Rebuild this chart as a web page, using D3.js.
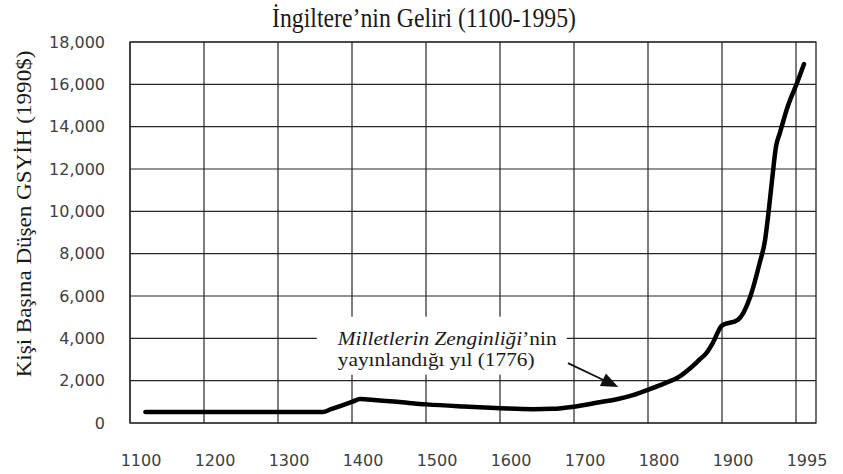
<!DOCTYPE html>
<html>
<head>
<meta charset="utf-8">
<script src="https://cdn.jsdelivr.net/npm/d3@7"></script>
<style>
  html, body { margin: 0; padding: 0; background: #ffffff; }
  svg { display: block; }
</style>
</head>
<body>
<div id="chart"></div>
<script>
// ---------- data ----------
const years  = [1110, 1200, 1300, 1350, 1360, 1390, 1400, 1410, 1450, 1490, 1540, 1590, 1634, 1660, 1689, 1724, 1747, 1770, 1789, 1810, 1832, 1845, 1859, 1868, 1877, 1889, 1910, 1926, 1938, 1945, 1949, 1954, 1959, 1964, 1974, 1986, 1995];
const values = [ 520,  520,  520,  520,  640, 1010, 1130, 1110, 1000,  880,  780,  700,  655,  670,  770,  980, 1120, 1330, 1570, 1850, 2200, 2550, 3000, 3300, 3800, 4600, 4870, 5970, 7550, 8640, 9800, 11480, 13050, 13700, 14940, 16060, 16960];
const xTickYears  = [1100, 1200, 1300, 1400, 1500, 1600, 1700, 1800, 1900, 1995];
const xTickLabels = ["1100", "1200", "1300", "1400", "1500", "1600", "1700", "1800", "1900", "1995"];
const yTickValues = [0, 2000, 4000, 6000, 8000, 10000, 12000, 14000, 16000, 18000];
const titleText = "İngiltere’nin Geliri (1100-1995)";
const yTitleText = "Kişi Başına Düşen GSYİH (1990$)";
const noteItalic = "Milletlerin Zenginliği";
const noteRest = "’nin";
const noteLine2 = "yayınlandığı yıl (1776)";
// annotation anchors in data units
const noteAt = { year: 1370, value: 3700 };
const arrowFrom = { year: 1681, value: 2830 };
const arrowTo = { year: 1749, value: 1700 };

// ---------- layout ----------
const W = 843, H = 474;
const plot = { left: 130, right: 816, top: 42, bottom: 423 };
const gridShift = 8;   // gridlines sit a little left of the label/data positions

const svg = d3.select("#chart").append("svg")
  .attr("width", W).attr("height", H)
  .style("background", "#fff");

const x = d3.scaleLinear().domain([1100, 1900, 1995]).range([138, 730, 804]);
const y = d3.scaleLinear().domain([0, 18000]).range([plot.bottom, plot.top]);

const gridColor = "#262626";

// gridlines (horizontal)
svg.append("g").selectAll("line").data(yTickValues).join("line")
  .attr("x1", plot.left).attr("x2", plot.right)
  .attr("y1", d => y(d)).attr("y2", d => y(d))
  .attr("stroke", gridColor).attr("stroke-width", 1.2);

// gridlines (vertical)
svg.append("g").selectAll("line").data(xTickYears).join("line")
  .attr("x1", d => x(d) - gridShift).attr("x2", d => x(d) - gridShift)
  .attr("y1", plot.top).attr("y2", plot.bottom)
  .attr("stroke", gridColor).attr("stroke-width", 1.2);

// frame
svg.append("rect")
  .attr("x", plot.left).attr("y", plot.top)
  .attr("width", plot.right - plot.left).attr("height", plot.bottom - plot.top)
  .attr("fill", "none").attr("stroke", gridColor).attr("stroke-width", 1.3);

// y tick labels
const tickFont = "'DejaVu Sans', sans-serif";
svg.append("g").selectAll("text").data(yTickValues).join("text")
  .attr("x", 105).attr("y", d => y(d)).attr("dy", "0.36em")
  .attr("text-anchor", "end")
  .attr("font-family", tickFont).attr("font-size", 16)
  .attr("fill", "#404040")
  .text(d => d3.format(",")(d));

// x tick labels
svg.append("g").selectAll("text").data(xTickYears).join("text")
  .attr("x", d => x(d) + 3).attr("y", 466)
  .attr("text-anchor", "middle")
  .attr("font-family", tickFont).attr("font-size", 16)
  .attr("fill", "#404040")
  .text((d, i) => xTickLabels[i]);

// helper to squeeze text horizontally to a target width
function fitWidth(sel, target) {
  const w = sel.node().getComputedTextLength();
  return w > 0 ? target / w : 1;
}

// title
const serif = "'Liberation Serif', 'Times New Roman', serif";
const title = svg.append("text")
  .attr("text-anchor", "middle")
  .attr("font-family", serif).attr("font-size", 27)
  .attr("fill", "#1a1a1a")
  .text(titleText);
{
  const s = fitWidth(title, 304);
  title.attr("transform", `translate(424,27) scale(${s},1)`);
}

// y-axis title
const yTitle = svg.append("text")
  .attr("text-anchor", "middle")
  .attr("font-family", serif).attr("font-size", 22)
  .attr("fill", "#1a1a1a")
  .text(yTitleText);
{
  const s = fitWidth(yTitle, 327);
  yTitle.attr("transform", `translate(31,214) rotate(-90) scale(${s},1)`);
}

// annotation
const nx = x(noteAt.year), ny = y(noteAt.value);
svg.append("rect")
  .attr("x", nx - 21).attr("y", ny - 28)
  .attr("width", 250).attr("height", 58)
  .attr("fill", "#fff");

const note1 = svg.append("text")
  .attr("font-family", serif).attr("font-size", 18.5).attr("fill", "#1a1a1a");
note1.append("tspan").attr("font-style", "italic").text(noteItalic);
note1.append("tspan").text(noteRest);
const s1 = fitWidth(note1, 219);
note1.attr("transform", `translate(${nx},${ny}) scale(${s1},1)`);

const note2 = svg.append("text")
  .attr("font-family", serif).attr("font-size", 18.5).attr("fill", "#1a1a1a")
  .text(noteLine2);
note2.attr("transform", `translate(${nx},${ny + 21}) scale(${s1},1)`);

// data line
const line = d3.line()
  .x((d, i) => x(years[i]))
  .y(d => y(d))
  .curve(d3.curveMonotoneX);
svg.append("path")
  .datum(values)
  .attr("d", line)
  .attr("fill", "none")
  .attr("stroke", "#000")
  .attr("stroke-width", 4.5)
  .attr("stroke-linejoin", "round")
  .attr("stroke-linecap", "round");

// arrow
const ax1 = x(arrowFrom.year), ay1 = y(arrowFrom.value);
const ax2 = x(arrowTo.year), ay2 = y(arrowTo.value);
const ang = Math.atan2(ay2 - ay1, ax2 - ax1);
const headLen = 17, headW = 7;
const bx = ax2 - headLen * Math.cos(ang), by = ay2 - headLen * Math.sin(ang);
svg.append("line")
  .attr("x1", ax1).attr("y1", ay1).attr("x2", bx).attr("y2", by)
  .attr("stroke", "#111").attr("stroke-width", 1.8);
svg.append("path")
  .attr("d", `M${ax2},${ay2} L${bx + headW * Math.sin(ang)},${by - headW * Math.cos(ang)} L${bx - headW * Math.sin(ang)},${by + headW * Math.cos(ang)} Z`)
  .attr("fill", "#111");
</script>
</body>
</html>
